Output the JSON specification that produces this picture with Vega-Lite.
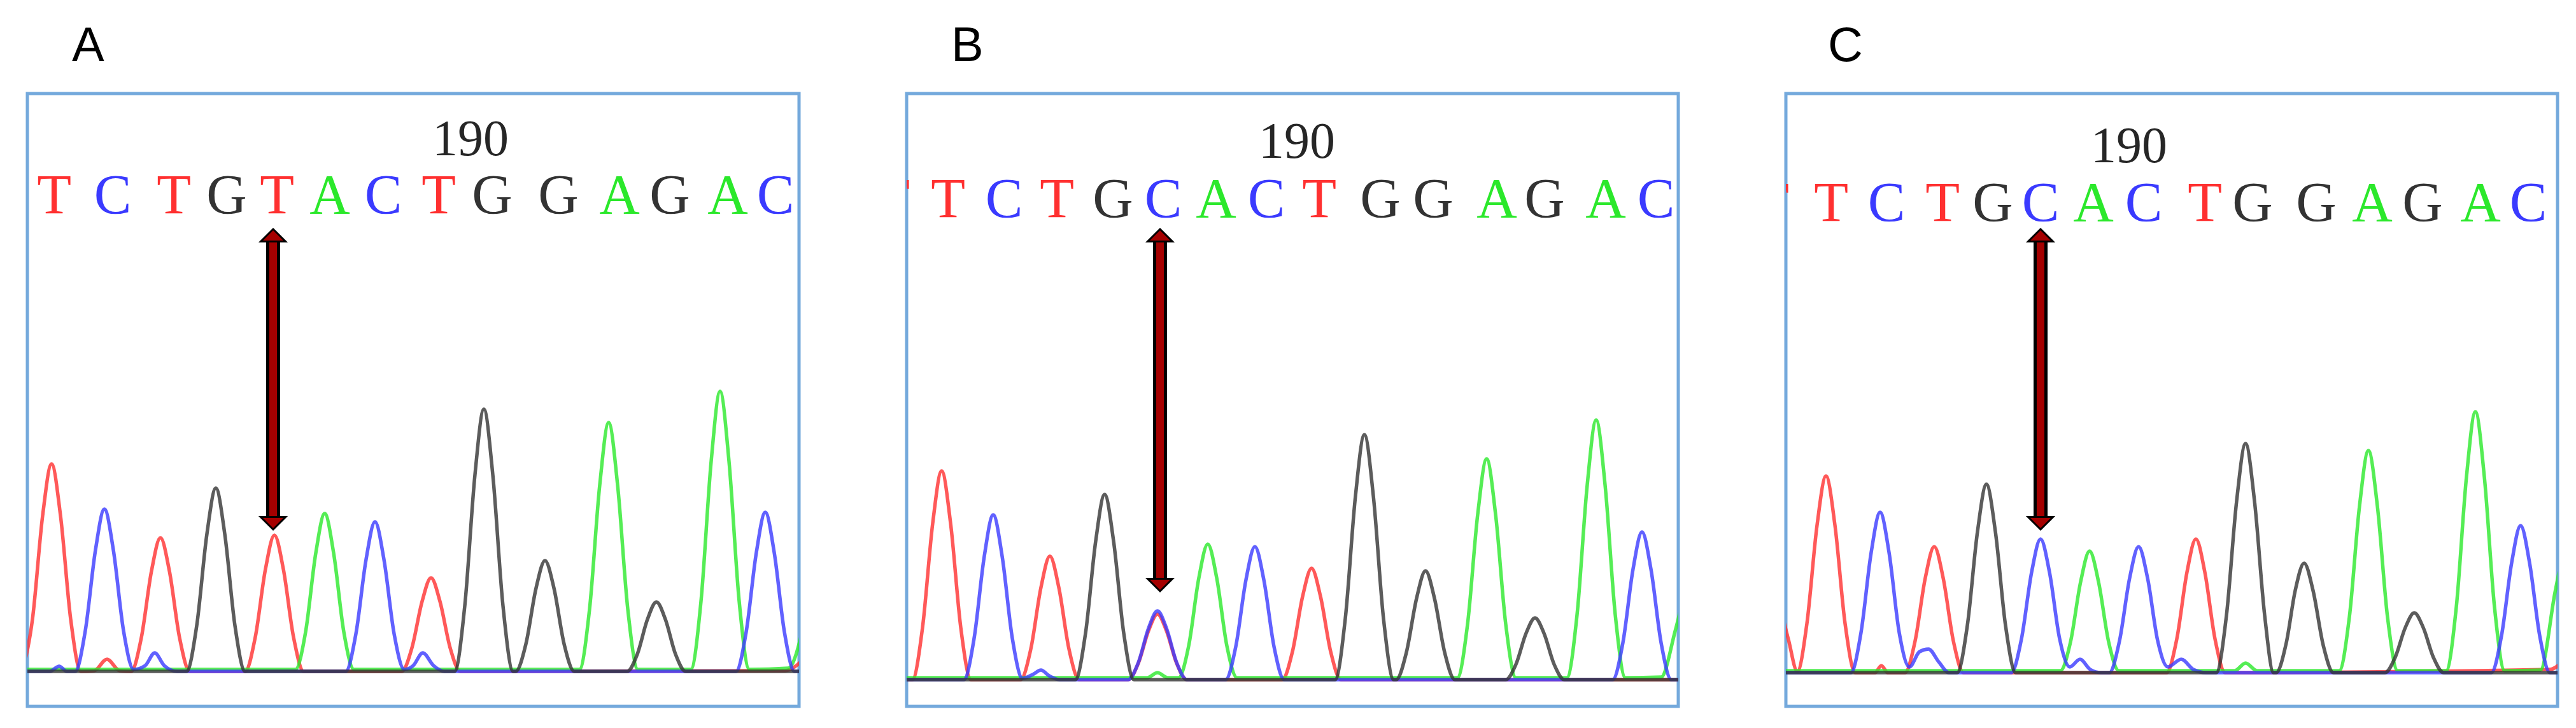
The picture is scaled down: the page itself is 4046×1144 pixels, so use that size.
{
"$schema": "https://vega.github.io/schema/vega-lite/v6.json",
"padding": {"left": 40, "top": 32, "right": 0, "bottom": 0},
"background": "white",
"config": {"view": {"stroke": "#74a9dc", "strokeWidth": 5}, "concat": {"spacing": 163}},
"datasets": {
"traces": [
{"p":"A","b":"T","x":-8,"y":55},{"p":"A","b":"T","x":8,"y":137},{"p":"A","b":"T","x":24,"y":300},{"p":"A","b":"T","x":38,"y":381},{"p":"A","b":"T","x":52,"y":300},{"p":"A","b":"T","x":68,"y":137},{"p":"A","b":"T","x":84,"y":55},{"p":"A","b":"T","x":105,"y":56},{"p":"A","b":"T","x":125,"y":74},{"p":"A","b":"T","x":145,"y":56},{"p":"A","b":"T","x":163,"y":55},{"p":"A","b":"T","x":179,"y":108},{"p":"A","b":"T","x":195,"y":213},{"p":"A","b":"T","x":209,"y":265},{"p":"A","b":"T","x":223,"y":213},{"p":"A","b":"T","x":239,"y":108},{"p":"A","b":"T","x":255,"y":55},{"p":"A","b":"T","x":342,"y":55},{"p":"A","b":"T","x":358,"y":109},{"p":"A","b":"T","x":374,"y":216},{"p":"A","b":"T","x":388,"y":269},{"p":"A","b":"T","x":402,"y":216},{"p":"A","b":"T","x":418,"y":109},{"p":"A","b":"T","x":434,"y":55},{"p":"A","b":"T","x":588,"y":55},{"p":"A","b":"T","x":604,"y":92},{"p":"A","b":"T","x":620,"y":165},{"p":"A","b":"T","x":634,"y":202},{"p":"A","b":"T","x":648,"y":165},{"p":"A","b":"T","x":664,"y":92},{"p":"A","b":"T","x":680,"y":55},{"p":"A","b":"T","x":1190,"y":56},{"p":"A","b":"T","x":1220,"y":75},
{"p":"A","b":"C","x":-10,"y":55},{"p":"A","b":"C","x":35,"y":55},{"p":"A","b":"C","x":50,"y":63},{"p":"A","b":"C","x":62,"y":55},{"p":"A","b":"C","x":75,"y":55},{"p":"A","b":"C","x":91,"y":119},{"p":"A","b":"C","x":107,"y":246},{"p":"A","b":"C","x":121,"y":310},{"p":"A","b":"C","x":135,"y":246},{"p":"A","b":"C","x":151,"y":119},{"p":"A","b":"C","x":167,"y":58},{"p":"A","b":"C","x":185,"y":64},{"p":"A","b":"C","x":200,"y":84},{"p":"A","b":"C","x":215,"y":64},{"p":"A","b":"C","x":235,"y":55},{"p":"A","b":"C","x":500,"y":55},{"p":"A","b":"C","x":516,"y":114},{"p":"A","b":"C","x":532,"y":231},{"p":"A","b":"C","x":546,"y":290},{"p":"A","b":"C","x":560,"y":231},{"p":"A","b":"C","x":576,"y":114},{"p":"A","b":"C","x":592,"y":58},{"p":"A","b":"C","x":606,"y":64},{"p":"A","b":"C","x":621,"y":84},{"p":"A","b":"C","x":638,"y":64},{"p":"A","b":"C","x":655,"y":55},{"p":"A","b":"C","x":1113,"y":55},{"p":"A","b":"C","x":1129,"y":117},{"p":"A","b":"C","x":1145,"y":242},{"p":"A","b":"C","x":1159,"y":305},{"p":"A","b":"C","x":1173,"y":242},{"p":"A","b":"C","x":1189,"y":117},{"p":"A","b":"C","x":1205,"y":55},{"p":"A","b":"C","x":1220,"y":55},
{"p":"A","b":"A","x":-10,"y":58},{"p":"A","b":"A","x":421,"y":58},{"p":"A","b":"A","x":437,"y":117},{"p":"A","b":"A","x":453,"y":241},{"p":"A","b":"A","x":467,"y":303},{"p":"A","b":"A","x":481,"y":241},{"p":"A","b":"A","x":497,"y":117},{"p":"A","b":"A","x":513,"y":58},{"p":"A","b":"A","x":867,"y":58},{"p":"A","b":"A","x":883,"y":153},{"p":"A","b":"A","x":899,"y":348},{"p":"A","b":"A","x":913,"y":446},{"p":"A","b":"A","x":927,"y":348},{"p":"A","b":"A","x":943,"y":153},{"p":"A","b":"A","x":959,"y":58},{"p":"A","b":"A","x":1042,"y":58},{"p":"A","b":"A","x":1058,"y":165},{"p":"A","b":"A","x":1074,"y":385},{"p":"A","b":"A","x":1088,"y":495},{"p":"A","b":"A","x":1102,"y":385},{"p":"A","b":"A","x":1118,"y":165},{"p":"A","b":"A","x":1134,"y":58},{"p":"A","b":"A","x":1195,"y":60},{"p":"A","b":"A","x":1220,"y":130},
{"p":"A","b":"G","x":-10,"y":55},{"p":"A","b":"G","x":250,"y":55},{"p":"A","b":"G","x":266,"y":127},{"p":"A","b":"G","x":282,"y":271},{"p":"A","b":"G","x":296,"y":343},{"p":"A","b":"G","x":310,"y":271},{"p":"A","b":"G","x":326,"y":127},{"p":"A","b":"G","x":342,"y":55},{"p":"A","b":"G","x":671,"y":55},{"p":"A","b":"G","x":687,"y":158},{"p":"A","b":"G","x":703,"y":364},{"p":"A","b":"G","x":717,"y":467},{"p":"A","b":"G","x":731,"y":364},{"p":"A","b":"G","x":747,"y":158},{"p":"A","b":"G","x":763,"y":55},{"p":"A","b":"G","x":767,"y":55},{"p":"A","b":"G","x":783,"y":98},{"p":"A","b":"G","x":799,"y":186},{"p":"A","b":"G","x":813,"y":229},{"p":"A","b":"G","x":827,"y":186},{"p":"A","b":"G","x":843,"y":98},{"p":"A","b":"G","x":859,"y":55},{"p":"A","b":"G","x":942,"y":55},{"p":"A","b":"G","x":958,"y":82},{"p":"A","b":"G","x":974,"y":137},{"p":"A","b":"G","x":988,"y":164},{"p":"A","b":"G","x":1002,"y":137},{"p":"A","b":"G","x":1018,"y":82},{"p":"A","b":"G","x":1034,"y":55},{"p":"A","b":"G","x":1220,"y":55},

{"p":"B","b":"T","x":-10,"y":42},{"p":"B","b":"T","x":9,"y":42},{"p":"B","b":"T","x":25,"y":124},{"p":"B","b":"T","x":41,"y":288},{"p":"B","b":"T","x":55,"y":370},{"p":"B","b":"T","x":69,"y":288},{"p":"B","b":"T","x":85,"y":124},{"p":"B","b":"T","x":101,"y":42},{"p":"B","b":"T","x":179,"y":42},{"p":"B","b":"T","x":195,"y":90},{"p":"B","b":"T","x":211,"y":187},{"p":"B","b":"T","x":225,"y":236},{"p":"B","b":"T","x":239,"y":187},{"p":"B","b":"T","x":255,"y":90},{"p":"B","b":"T","x":271,"y":42},{"p":"B","b":"T","x":348,"y":42},{"p":"B","b":"T","x":364,"y":68},{"p":"B","b":"T","x":380,"y":119},{"p":"B","b":"T","x":394,"y":145},{"p":"B","b":"T","x":408,"y":119},{"p":"B","b":"T","x":424,"y":68},{"p":"B","b":"T","x":440,"y":42},{"p":"B","b":"T","x":590,"y":42},{"p":"B","b":"T","x":606,"y":86},{"p":"B","b":"T","x":622,"y":173},{"p":"B","b":"T","x":636,"y":217},{"p":"B","b":"T","x":650,"y":173},{"p":"B","b":"T","x":666,"y":86},{"p":"B","b":"T","x":682,"y":42},{"p":"B","b":"T","x":1220,"y":42},
{"p":"B","b":"C","x":-10,"y":42},{"p":"B","b":"C","x":90,"y":42},{"p":"B","b":"C","x":106,"y":107},{"p":"B","b":"C","x":122,"y":236},{"p":"B","b":"C","x":136,"y":301},{"p":"B","b":"C","x":150,"y":236},{"p":"B","b":"C","x":166,"y":107},{"p":"B","b":"C","x":182,"y":44},{"p":"B","b":"C","x":198,"y":50},{"p":"B","b":"C","x":211,"y":57},{"p":"B","b":"C","x":224,"y":48},{"p":"B","b":"C","x":240,"y":42},{"p":"B","b":"C","x":348,"y":42},{"p":"B","b":"C","x":364,"y":69},{"p":"B","b":"C","x":380,"y":123},{"p":"B","b":"C","x":394,"y":150},{"p":"B","b":"C","x":408,"y":123},{"p":"B","b":"C","x":424,"y":69},{"p":"B","b":"C","x":440,"y":42},{"p":"B","b":"C","x":501,"y":42},{"p":"B","b":"C","x":517,"y":94},{"p":"B","b":"C","x":533,"y":199},{"p":"B","b":"C","x":547,"y":251},{"p":"B","b":"C","x":561,"y":199},{"p":"B","b":"C","x":577,"y":94},{"p":"B","b":"C","x":593,"y":42},{"p":"B","b":"C","x":1109,"y":42},{"p":"B","b":"C","x":1125,"y":100},{"p":"B","b":"C","x":1141,"y":216},{"p":"B","b":"C","x":1155,"y":274},{"p":"B","b":"C","x":1169,"y":216},{"p":"B","b":"C","x":1185,"y":100},{"p":"B","b":"C","x":1201,"y":42},{"p":"B","b":"C","x":1220,"y":42},
{"p":"B","b":"A","x":-10,"y":45},{"p":"B","b":"A","x":378,"y":45},{"p":"B","b":"A","x":394,"y":53},{"p":"B","b":"A","x":410,"y":45},{"p":"B","b":"A","x":427,"y":45},{"p":"B","b":"A","x":443,"y":95},{"p":"B","b":"A","x":459,"y":202},{"p":"B","b":"A","x":473,"y":255},{"p":"B","b":"A","x":487,"y":202},{"p":"B","b":"A","x":503,"y":95},{"p":"B","b":"A","x":519,"y":45},{"p":"B","b":"A","x":865,"y":45},{"p":"B","b":"A","x":881,"y":129},{"p":"B","b":"A","x":897,"y":302},{"p":"B","b":"A","x":911,"y":389},{"p":"B","b":"A","x":925,"y":302},{"p":"B","b":"A","x":941,"y":129},{"p":"B","b":"A","x":957,"y":45},{"p":"B","b":"A","x":1037,"y":45},{"p":"B","b":"A","x":1053,"y":144},{"p":"B","b":"A","x":1069,"y":348},{"p":"B","b":"A","x":1083,"y":450},{"p":"B","b":"A","x":1097,"y":348},{"p":"B","b":"A","x":1113,"y":144},{"p":"B","b":"A","x":1129,"y":45},{"p":"B","b":"A","x":1185,"y":46},{"p":"B","b":"A","x":1207,"y":118},{"p":"B","b":"A","x":1220,"y":170},
{"p":"B","b":"G","x":-10,"y":42},{"p":"B","b":"G","x":265,"y":42},{"p":"B","b":"G","x":281,"y":115},{"p":"B","b":"G","x":297,"y":260},{"p":"B","b":"G","x":311,"y":333},{"p":"B","b":"G","x":325,"y":260},{"p":"B","b":"G","x":341,"y":115},{"p":"B","b":"G","x":357,"y":42},{"p":"B","b":"G","x":673,"y":42},{"p":"B","b":"G","x":689,"y":138},{"p":"B","b":"G","x":705,"y":331},{"p":"B","b":"G","x":719,"y":427},{"p":"B","b":"G","x":733,"y":331},{"p":"B","b":"G","x":749,"y":138},{"p":"B","b":"G","x":765,"y":42},{"p":"B","b":"G","x":769,"y":42},{"p":"B","b":"G","x":785,"y":85},{"p":"B","b":"G","x":801,"y":170},{"p":"B","b":"G","x":815,"y":213},{"p":"B","b":"G","x":829,"y":170},{"p":"B","b":"G","x":845,"y":85},{"p":"B","b":"G","x":861,"y":42},{"p":"B","b":"G","x":941,"y":42},{"p":"B","b":"G","x":957,"y":66},{"p":"B","b":"G","x":973,"y":115},{"p":"B","b":"G","x":987,"y":139},{"p":"B","b":"G","x":1001,"y":115},{"p":"B","b":"G","x":1017,"y":66},{"p":"B","b":"G","x":1033,"y":42},{"p":"B","b":"G","x":1220,"y":42},

{"p":"C","b":"T","x":-12,"y":170},{"p":"C","b":"T","x":4,"y":105},{"p":"C","b":"T","x":18,"y":55},{"p":"C","b":"T","x":33,"y":130},{"p":"C","b":"T","x":49,"y":285},{"p":"C","b":"T","x":63,"y":362},{"p":"C","b":"T","x":77,"y":285},{"p":"C","b":"T","x":93,"y":130},{"p":"C","b":"T","x":109,"y":53},{"p":"C","b":"T","x":140,"y":53},{"p":"C","b":"T","x":150,"y":64},{"p":"C","b":"T","x":160,"y":53},{"p":"C","b":"T","x":187,"y":53},{"p":"C","b":"T","x":203,"y":103},{"p":"C","b":"T","x":219,"y":202},{"p":"C","b":"T","x":233,"y":251},{"p":"C","b":"T","x":247,"y":202},{"p":"C","b":"T","x":263,"y":103},{"p":"C","b":"T","x":279,"y":53},{"p":"C","b":"T","x":598,"y":53},{"p":"C","b":"T","x":614,"y":106},{"p":"C","b":"T","x":630,"y":211},{"p":"C","b":"T","x":644,"y":263},{"p":"C","b":"T","x":658,"y":211},{"p":"C","b":"T","x":674,"y":106},{"p":"C","b":"T","x":690,"y":53},{"p":"C","b":"T","x":1200,"y":58},{"p":"C","b":"T","x":1220,"y":70},
{"p":"C","b":"C","x":-10,"y":53},{"p":"C","b":"C","x":102,"y":53},{"p":"C","b":"C","x":118,"y":116},{"p":"C","b":"C","x":134,"y":242},{"p":"C","b":"C","x":148,"y":305},{"p":"C","b":"C","x":162,"y":242},{"p":"C","b":"C","x":178,"y":116},{"p":"C","b":"C","x":194,"y":62},{"p":"C","b":"C","x":210,"y":86},{"p":"C","b":"C","x":224,"y":90},{"p":"C","b":"C","x":240,"y":70},{"p":"C","b":"C","x":256,"y":53},{"p":"C","b":"C","x":354,"y":53},{"p":"C","b":"C","x":370,"y":106},{"p":"C","b":"C","x":386,"y":211},{"p":"C","b":"C","x":400,"y":263},{"p":"C","b":"C","x":414,"y":211},{"p":"C","b":"C","x":430,"y":106},{"p":"C","b":"C","x":446,"y":62},{"p":"C","b":"C","x":462,"y":74},{"p":"C","b":"C","x":478,"y":58},{"p":"C","b":"C","x":495,"y":53},{"p":"C","b":"C","x":508,"y":53},{"p":"C","b":"C","x":524,"y":103},{"p":"C","b":"C","x":540,"y":202},{"p":"C","b":"C","x":554,"y":251},{"p":"C","b":"C","x":568,"y":202},{"p":"C","b":"C","x":584,"y":103},{"p":"C","b":"C","x":600,"y":62},{"p":"C","b":"C","x":621,"y":74},{"p":"C","b":"C","x":640,"y":58},{"p":"C","b":"C","x":660,"y":53},{"p":"C","b":"C","x":1108,"y":53},{"p":"C","b":"C","x":1124,"y":111},{"p":"C","b":"C","x":1140,"y":226},{"p":"C","b":"C","x":1154,"y":284},{"p":"C","b":"C","x":1168,"y":226},{"p":"C","b":"C","x":1184,"y":111},{"p":"C","b":"C","x":1200,"y":53},{"p":"C","b":"C","x":1220,"y":53},
{"p":"C","b":"A","x":-10,"y":56},{"p":"C","b":"A","x":431,"y":56},{"p":"C","b":"A","x":447,"y":101},{"p":"C","b":"A","x":463,"y":196},{"p":"C","b":"A","x":477,"y":244},{"p":"C","b":"A","x":491,"y":196},{"p":"C","b":"A","x":507,"y":101},{"p":"C","b":"A","x":523,"y":56},{"p":"C","b":"A","x":705,"y":56},{"p":"C","b":"A","x":722,"y":68},{"p":"C","b":"A","x":740,"y":56},{"p":"C","b":"A","x":869,"y":56},{"p":"C","b":"A","x":885,"y":140},{"p":"C","b":"A","x":901,"y":315},{"p":"C","b":"A","x":915,"y":402},{"p":"C","b":"A","x":929,"y":315},{"p":"C","b":"A","x":945,"y":140},{"p":"C","b":"A","x":961,"y":56},{"p":"C","b":"A","x":1037,"y":56},{"p":"C","b":"A","x":1053,"y":156},{"p":"C","b":"A","x":1069,"y":361},{"p":"C","b":"A","x":1083,"y":463},{"p":"C","b":"A","x":1097,"y":361},{"p":"C","b":"A","x":1113,"y":156},{"p":"C","b":"A","x":1129,"y":56},{"p":"C","b":"A","x":1185,"y":57},{"p":"C","b":"A","x":1208,"y":179},{"p":"C","b":"A","x":1222,"y":250},
{"p":"C","b":"G","x":-10,"y":53},{"p":"C","b":"G","x":269,"y":53},{"p":"C","b":"G","x":285,"y":127},{"p":"C","b":"G","x":301,"y":275},{"p":"C","b":"G","x":315,"y":349},{"p":"C","b":"G","x":329,"y":275},{"p":"C","b":"G","x":345,"y":127},{"p":"C","b":"G","x":361,"y":53},{"p":"C","b":"G","x":676,"y":53},{"p":"C","b":"G","x":692,"y":143},{"p":"C","b":"G","x":708,"y":323},{"p":"C","b":"G","x":722,"y":413},{"p":"C","b":"G","x":736,"y":323},{"p":"C","b":"G","x":752,"y":143},{"p":"C","b":"G","x":766,"y":53},{"p":"C","b":"G","x":770,"y":53},{"p":"C","b":"G","x":786,"y":100},{"p":"C","b":"G","x":800,"y":182},{"p":"C","b":"G","x":814,"y":225},{"p":"C","b":"G","x":828,"y":182},{"p":"C","b":"G","x":844,"y":96},{"p":"C","b":"G","x":860,"y":53},{"p":"C","b":"G","x":941,"y":53},{"p":"C","b":"G","x":957,"y":77},{"p":"C","b":"G","x":973,"y":124},{"p":"C","b":"G","x":987,"y":147},{"p":"C","b":"G","x":1001,"y":124},{"p":"C","b":"G","x":1017,"y":77},{"p":"C","b":"G","x":1033,"y":53},{"p":"C","b":"G","x":1220,"y":53}
],
"letters": [
{"p":"A","b":"T","x":42,"y":775},{"p":"A","b":"C","x":134,"y":775},{"p":"A","b":"T","x":230,"y":775},{"p":"A","b":"G","x":313,"y":775},{"p":"A","b":"T","x":392,"y":775},{"p":"A","b":"A","x":475,"y":775},{"p":"A","b":"C","x":559,"y":775},{"p":"A","b":"T","x":646,"y":775},{"p":"A","b":"G","x":730,"y":775},{"p":"A","b":"G","x":834,"y":775},{"p":"A","b":"A","x":930,"y":775},{"p":"A","b":"G","x":1009,"y":775},{"p":"A","b":"A","x":1100,"y":775},{"p":"A","b":"C","x":1175,"y":775},
{"p":"B","b":"T","x":-22,"y":769},{"p":"B","b":"T","x":65,"y":769},{"p":"B","b":"C","x":153,"y":769},{"p":"B","b":"T","x":236,"y":769},{"p":"B","b":"G","x":324,"y":769},{"p":"B","b":"C","x":403,"y":769},{"p":"B","b":"A","x":486,"y":769},{"p":"B","b":"C","x":565,"y":769},{"p":"B","b":"T","x":648,"y":769},{"p":"B","b":"G","x":744,"y":769},{"p":"B","b":"G","x":827,"y":769},{"p":"B","b":"A","x":927,"y":769},{"p":"B","b":"G","x":1002,"y":769},{"p":"B","b":"A","x":1098,"y":769},{"p":"B","b":"C","x":1177,"y":769},
{"p":"C","b":"T","x":-22,"y":763},{"p":"C","b":"T","x":71,"y":763},{"p":"C","b":"C","x":158,"y":763},{"p":"C","b":"T","x":246,"y":763},{"p":"C","b":"G","x":325,"y":763},{"p":"C","b":"C","x":400,"y":763},{"p":"C","b":"A","x":483,"y":763},{"p":"C","b":"C","x":562,"y":763},{"p":"C","b":"T","x":658,"y":763},{"p":"C","b":"G","x":733,"y":763},{"p":"C","b":"G","x":833,"y":763},{"p":"C","b":"A","x":921,"y":763},{"p":"C","b":"G","x":1000,"y":763},{"p":"C","b":"A","x":1091,"y":763},{"p":"C","b":"C","x":1166,"y":763}
],
"labels": [
{"p":"A","x":696,"y":866,"t":"190"},{"p":"B","x":613,"y":862,"t":"190"},{"p":"C","x":539,"y":855,"t":"190"}
],
"arrows": [
{"p":"A","x":386,"y":750,"y2":278},{"p":"B","x":398,"y":750,"y2":181},{"p":"C","x":400,"y":750,"y2":278}
],
"heads": [
{"p":"A","d":"up","x":386,"y":750},{"p":"A","d":"down","x":386,"y":278},
{"p":"B","d":"up","x":398,"y":750},{"p":"B","d":"down","x":398,"y":181},
{"p":"C","d":"up","x":400,"y":750},{"p":"C","d":"down","x":400,"y":278}
]
},
"hconcat": [
{
"width": 1212, "height": 963,
"title": {"text": "A", "anchor": "start", "fontSize": 76, "font": "Liberation Sans", "fontWeight": "normal", "dx": 70, "offset": -25, "baseline": "alphabetic", "color": "black"},
"encoding": {
"x": {"field": "x", "type": "quantitative", "scale": {"domain": [0, 1212], "nice": false, "zero": false}, "axis": null},
"y": {"field": "y", "type": "quantitative", "scale": {"domain": [0, 963], "nice": false, "zero": false}, "axis": null},
"color": {"field": "b", "type": "nominal", "scale": {"domain": ["A","C","G","T"], "range": ["#2be82b","#3a3aff","#333333","#ff3030"]}, "legend": null}
},
"layer": [
{"data": {"name": "traces"}, "transform": [{"filter": "datum.p === 'A' && datum.b === 'T'"}], "mark": {"type": "line", "interpolate": "monotone", "strokeWidth": 5.5, "clip": true, "opacity": 0.8}},
{"data": {"name": "traces"}, "transform": [{"filter": "datum.p === 'A' && datum.b === 'A'"}], "mark": {"type": "line", "interpolate": "monotone", "strokeWidth": 5.5, "clip": true, "opacity": 0.8}},
{"data": {"name": "traces"}, "transform": [{"filter": "datum.p === 'A' && datum.b === 'C'"}], "mark": {"type": "line", "interpolate": "monotone", "strokeWidth": 5.5, "clip": true, "opacity": 0.8}},
{"data": {"name": "traces"}, "transform": [{"filter": "datum.p === 'A' && datum.b === 'G'"}], "mark": {"type": "line", "interpolate": "monotone", "strokeWidth": 5.5, "clip": true, "opacity": 0.8}},
{"data": {"name": "letters"}, "transform": [{"filter": "datum.p === 'A'"}], "mark": {"type": "text", "font": "Liberation Serif", "fontSize": 88, "baseline": "alphabetic", "align": "center", "clip": true}, "encoding": {"text": {"field": "b"}}},
{"data": {"name": "labels"}, "transform": [{"filter": "datum.p === 'A'"}], "mark": {"type": "text", "font": "Liberation Serif", "fontSize": 80, "baseline": "alphabetic", "align": "center", "color": "#262626"}, "encoding": {"text": {"field": "t"}, "color": {"value": "#262626"}}},
{"data": {"name": "arrows"}, "transform": [{"filter": "datum.p === 'A'"}], "mark": {"type": "rule", "strokeWidth": 22, "yOffset": 19, "y2Offset": -19}, "encoding": {"y2": {"field": "y2"}, "color": {"value": "black"}}},
{"data": {"name": "arrows"}, "transform": [{"filter": "datum.p === 'A'"}], "mark": {"type": "rule", "strokeWidth": 12, "yOffset": 17, "y2Offset": -17}, "encoding": {"y2": {"field": "y2"}, "color": {"value": "#a50000"}}},
{"data": {"name": "heads"}, "transform": [{"filter": "datum.p === 'A' && datum.d === 'up'"}], "mark": {"type": "point", "shape": "M0,-1L1,0L-1,0Z", "size": 1521, "filled": true, "stroke": "black", "strokeWidth": 3, "opacity": 1, "yOffset": 19.5}, "encoding": {"color": {"value": "#a50000"}, "stroke": {"value": "black"}}},
{"data": {"name": "heads"}, "transform": [{"filter": "datum.p === 'A' && datum.d === 'down'"}], "mark": {"type": "point", "shape": "M0,1L1,0L-1,0Z", "size": 1521, "filled": true, "stroke": "black", "strokeWidth": 3, "opacity": 1, "yOffset": -19.5}, "encoding": {"color": {"value": "#a50000"}, "stroke": {"value": "black"}}}
]
},
{
"width": 1212, "height": 963,
"title": {"text": "B", "anchor": "start", "fontSize": 76, "font": "Liberation Sans", "fontWeight": "normal", "dx": 70, "offset": -25, "baseline": "alphabetic", "color": "black"},
"encoding": {
"x": {"field": "x", "type": "quantitative", "scale": {"domain": [0, 1212], "nice": false, "zero": false}, "axis": null},
"y": {"field": "y", "type": "quantitative", "scale": {"domain": [0, 963], "nice": false, "zero": false}, "axis": null},
"color": {"field": "b", "type": "nominal", "scale": {"domain": ["A","C","G","T"], "range": ["#2be82b","#3a3aff","#333333","#ff3030"]}, "legend": null}
},
"layer": [
{"data": {"name": "traces"}, "transform": [{"filter": "datum.p === 'B' && datum.b === 'T'"}], "mark": {"type": "line", "interpolate": "monotone", "strokeWidth": 5.5, "clip": true, "opacity": 0.8}},
{"data": {"name": "traces"}, "transform": [{"filter": "datum.p === 'B' && datum.b === 'A'"}], "mark": {"type": "line", "interpolate": "monotone", "strokeWidth": 5.5, "clip": true, "opacity": 0.8}},
{"data": {"name": "traces"}, "transform": [{"filter": "datum.p === 'B' && datum.b === 'C'"}], "mark": {"type": "line", "interpolate": "monotone", "strokeWidth": 5.5, "clip": true, "opacity": 0.8}},
{"data": {"name": "traces"}, "transform": [{"filter": "datum.p === 'B' && datum.b === 'G'"}], "mark": {"type": "line", "interpolate": "monotone", "strokeWidth": 5.5, "clip": true, "opacity": 0.8}},
{"data": {"name": "letters"}, "transform": [{"filter": "datum.p === 'B'"}], "mark": {"type": "text", "font": "Liberation Serif", "fontSize": 88, "baseline": "alphabetic", "align": "center", "clip": true}, "encoding": {"text": {"field": "b"}}},
{"data": {"name": "labels"}, "transform": [{"filter": "datum.p === 'B'"}], "mark": {"type": "text", "font": "Liberation Serif", "fontSize": 80, "baseline": "alphabetic", "align": "center", "color": "#262626"}, "encoding": {"text": {"field": "t"}, "color": {"value": "#262626"}}},
{"data": {"name": "arrows"}, "transform": [{"filter": "datum.p === 'B'"}], "mark": {"type": "rule", "strokeWidth": 22, "yOffset": 19, "y2Offset": -19}, "encoding": {"y2": {"field": "y2"}, "color": {"value": "black"}}},
{"data": {"name": "arrows"}, "transform": [{"filter": "datum.p === 'B'"}], "mark": {"type": "rule", "strokeWidth": 12, "yOffset": 17, "y2Offset": -17}, "encoding": {"y2": {"field": "y2"}, "color": {"value": "#a50000"}}},
{"data": {"name": "heads"}, "transform": [{"filter": "datum.p === 'B' && datum.d === 'up'"}], "mark": {"type": "point", "shape": "M0,-1L1,0L-1,0Z", "size": 1521, "filled": true, "stroke": "black", "strokeWidth": 3, "opacity": 1, "yOffset": 19.5}, "encoding": {"color": {"value": "#a50000"}, "stroke": {"value": "black"}}},
{"data": {"name": "heads"}, "transform": [{"filter": "datum.p === 'B' && datum.d === 'down'"}], "mark": {"type": "point", "shape": "M0,1L1,0L-1,0Z", "size": 1521, "filled": true, "stroke": "black", "strokeWidth": 3, "opacity": 1, "yOffset": -19.5}, "encoding": {"color": {"value": "#a50000"}, "stroke": {"value": "black"}}}
]
},
{
"width": 1212, "height": 963,
"title": {"text": "C", "anchor": "start", "fontSize": 76, "font": "Liberation Sans", "fontWeight": "normal", "dx": 66, "offset": -25, "baseline": "alphabetic", "color": "black"},
"encoding": {
"x": {"field": "x", "type": "quantitative", "scale": {"domain": [0, 1212], "nice": false, "zero": false}, "axis": null},
"y": {"field": "y", "type": "quantitative", "scale": {"domain": [0, 963], "nice": false, "zero": false}, "axis": null},
"color": {"field": "b", "type": "nominal", "scale": {"domain": ["A","C","G","T"], "range": ["#2be82b","#3a3aff","#333333","#ff3030"]}, "legend": null}
},
"layer": [
{"data": {"name": "traces"}, "transform": [{"filter": "datum.p === 'C' && datum.b === 'T'"}], "mark": {"type": "line", "interpolate": "monotone", "strokeWidth": 5.5, "clip": true, "opacity": 0.8}},
{"data": {"name": "traces"}, "transform": [{"filter": "datum.p === 'C' && datum.b === 'A'"}], "mark": {"type": "line", "interpolate": "monotone", "strokeWidth": 5.5, "clip": true, "opacity": 0.8}},
{"data": {"name": "traces"}, "transform": [{"filter": "datum.p === 'C' && datum.b === 'C'"}], "mark": {"type": "line", "interpolate": "monotone", "strokeWidth": 5.5, "clip": true, "opacity": 0.8}},
{"data": {"name": "traces"}, "transform": [{"filter": "datum.p === 'C' && datum.b === 'G'"}], "mark": {"type": "line", "interpolate": "monotone", "strokeWidth": 5.5, "clip": true, "opacity": 0.8}},
{"data": {"name": "letters"}, "transform": [{"filter": "datum.p === 'C'"}], "mark": {"type": "text", "font": "Liberation Serif", "fontSize": 88, "baseline": "alphabetic", "align": "center", "clip": true}, "encoding": {"text": {"field": "b"}}},
{"data": {"name": "labels"}, "transform": [{"filter": "datum.p === 'C'"}], "mark": {"type": "text", "font": "Liberation Serif", "fontSize": 80, "baseline": "alphabetic", "align": "center", "color": "#262626"}, "encoding": {"text": {"field": "t"}, "color": {"value": "#262626"}}},
{"data": {"name": "arrows"}, "transform": [{"filter": "datum.p === 'C'"}], "mark": {"type": "rule", "strokeWidth": 22, "yOffset": 19, "y2Offset": -19}, "encoding": {"y2": {"field": "y2"}, "color": {"value": "black"}}},
{"data": {"name": "arrows"}, "transform": [{"filter": "datum.p === 'C'"}], "mark": {"type": "rule", "strokeWidth": 12, "yOffset": 17, "y2Offset": -17}, "encoding": {"y2": {"field": "y2"}, "color": {"value": "#a50000"}}},
{"data": {"name": "heads"}, "transform": [{"filter": "datum.p === 'C' && datum.d === 'up'"}], "mark": {"type": "point", "shape": "M0,-1L1,0L-1,0Z", "size": 1521, "filled": true, "stroke": "black", "strokeWidth": 3, "opacity": 1, "yOffset": 19.5}, "encoding": {"color": {"value": "#a50000"}, "stroke": {"value": "black"}}},
{"data": {"name": "heads"}, "transform": [{"filter": "datum.p === 'C' && datum.d === 'down'"}], "mark": {"type": "point", "shape": "M0,1L1,0L-1,0Z", "size": 1521, "filled": true, "stroke": "black", "strokeWidth": 3, "opacity": 1, "yOffset": -19.5}, "encoding": {"color": {"value": "#a50000"}, "stroke": {"value": "black"}}}
]
}
]
}
